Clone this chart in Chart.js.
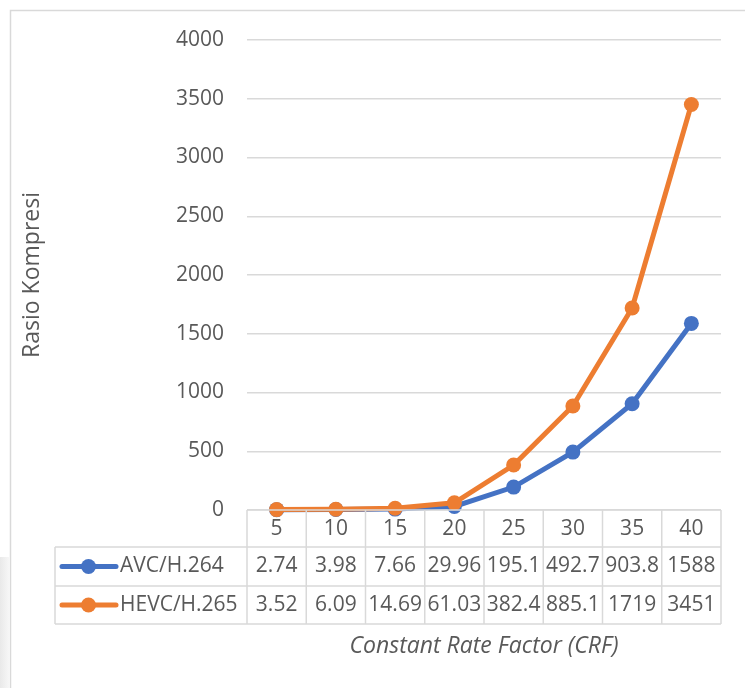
<!DOCTYPE html>
<html><head><meta charset="utf-8">
<script src="https://cdn.jsdelivr.net/npm/chart.js@4"></script>
<style>html,body{margin:0;padding:0;background:#fff}#wrap{width:745px;height:688px;position:relative}</style>
</head><body><div id="wrap"><canvas id="c" width="745" height="688"></canvas></div>
<script>
const categories = ['5', '10', '15', '20', '25', '30', '35', '40'];
const avcValues = [2.74, 3.98, 7.66, 29.96, 195.1, 492.7, 903.8, 1588];
const hevcValues = [3.52, 6.09, 14.69, 61.03, 382.4, 885.1, 1719, 3451];
const avcLabels = ['2.74', '3.98', '7.66', '29.96', '195.1', '492.7', '903.8', '1588'];
const hevcLabels = ['3.52', '6.09', '14.69', '61.03', '382.4', '885.1', '1719', '3451'];
const seriesNames = ['AVC/H.264', 'HEVC/H.265'];
const yMin = 0, yMax = 4000, yStep = 500;
const yTitle = 'Rasio Kompresi';
const xTitle = 'Constant Rate Factor (CRF)';

const BLUE = '#4472C4', ORANGE = '#ED7D31', TEXT = '#595959', GRID = '#d9d9d9';
const FONT = '"Open Sans", "Noto Sans", sans-serif';

const bgPlugin = {
  id: 'bg',
  beforeDraw(chart) {
    const ctx = chart.ctx;
    ctx.save();
    ctx.fillStyle = '#fff';
    ctx.fillRect(0, 0, chart.width, chart.height);
    const g = ctx.createLinearGradient(0, 0, 10, 0);
    g.addColorStop(0, '#e9e9e9'); g.addColorStop(1, '#f8f8f8');
    ctx.fillStyle = g;
    ctx.fillRect(0, 557, 9, 131);
    ctx.strokeStyle = GRID;
    ctx.lineWidth = 1.5;
    ctx.strokeRect(10.5, 10.5, 900, 900);
    ctx.restore();
  }
};

const tablePlugin = {
  id: 'dataTable',
  afterDraw(chart) {
    const ctx = chart.ctx, x = chart.scales.x, area = chart.chartArea;
    const n = categories.length;
    const colW = x.getPixelForValue(1) - x.getPixelForValue(0);
    const legendLeft = 55;
    const top = area.bottom, r1 = top + 37, r2 = r1 + 39, r3 = r2 + 38;
    ctx.save();
    ctx.strokeStyle = GRID;
    ctx.lineWidth = 1.5;
    ctx.beginPath();
    ctx.moveTo(area.left, top); ctx.lineTo(area.right, top);
    [r1, r2, r3].forEach(y => { ctx.moveTo(legendLeft, y); ctx.lineTo(area.right, y); });
    for (let i = 0; i <= n; i++) {
      const xb = x.getPixelForValue(0) - colW / 2 + i * colW;
      ctx.moveTo(xb, top); ctx.lineTo(xb, r3);
    }
    ctx.moveTo(legendLeft, r1); ctx.lineTo(legendLeft, r3);
    ctx.stroke();

    ctx.fillStyle = TEXT;
    ctx.font = '21px ' + FONT;
    ctx.textAlign = 'center';
    ctx.textBaseline = 'middle';
    const c0 = (top + r1) / 2 + 1, c1 = (r1 + r2) / 2, c2 = (r2 + r3) / 2;
    for (let i = 0; i < n; i++) {
      const cx = x.getPixelForValue(i);
      ctx.fillText(categories[i], cx, c0);
      ctx.fillText(avcLabels[i], cx, c1);
      ctx.fillText(hevcLabels[i], cx, c2);
    }
    [[BLUE, c1, seriesNames[0]], [ORANGE, c2, seriesNames[1]]].forEach(([col, cy, name]) => {
      ctx.strokeStyle = col; ctx.fillStyle = col; ctx.lineWidth = 5; ctx.lineCap = 'round';
      ctx.beginPath(); ctx.moveTo(62, cy); ctx.lineTo(116, cy); ctx.stroke();
      ctx.beginPath(); ctx.arc(88.5, cy, 7.5, 0, Math.PI * 2); ctx.fill();
      ctx.fillStyle = TEXT; ctx.textAlign = 'left';
      ctx.fillText(name, 120, cy);
    });
    ctx.restore();
  }
};

new Chart(document.getElementById('c'), {
  type: 'line',
  data: {
    labels: categories,
    datasets: [
      { label: seriesNames[0], data: avcValues, borderColor: BLUE, backgroundColor: BLUE,
        pointBackgroundColor: BLUE, pointBorderColor: BLUE, borderWidth: 5, pointRadius: 7.5,
        pointBorderWidth: 0, clip: false, order: 1, tension: 0 },
      { label: seriesNames[1], data: hevcValues, borderColor: ORANGE, backgroundColor: ORANGE,
        pointBackgroundColor: ORANGE, pointBorderColor: ORANGE, borderWidth: 5, pointRadius: 7.5,
        pointBorderWidth: 0, clip: false, order: 0, tension: 0 }
    ]
  },
  options: {
    responsive: false,
    animation: false,
    devicePixelRatio: 1,
    layout: { padding: { top: 40, right: 24, bottom: 0, left: 0 } },
    plugins: { legend: { display: false }, tooltip: { enabled: false } },
    scales: {
      x: {
        offset: true,
        ticks: { display: false },
        grid: { display: false },
        border: { display: false },
        title: { display: true, text: xTitle, color: TEXT,
          font: { family: FONT, size: 23, style: 'italic' }, padding: { top: 0, bottom: 28 } },
        afterFit(s) { s.height = 178; }
      },
      y: {
        min: yMin, max: yMax,
        ticks: { stepSize: yStep, color: TEXT, font: { family: FONT, size: 21 }, padding: 23,
          callback: v => String(v) },
        grid: { color: GRID, lineWidth: 1.5, drawTicks: false },
        border: { display: false },
        title: { display: true, text: yTitle, color: TEXT,
          font: { family: FONT, size: 23 }, padding: { top: 19, bottom: 0 } },
        afterFit(s) { s.width = 247; }
      }
    }
  },
  plugins: [bgPlugin, tablePlugin]
});
</script>
</body></html>
